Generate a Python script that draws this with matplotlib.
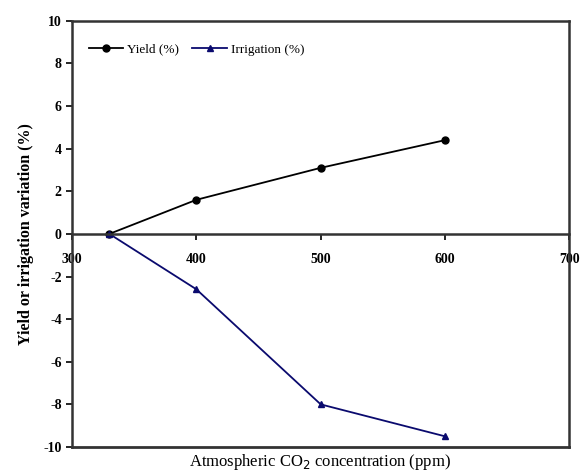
import matplotlib
matplotlib.use("Agg")
import matplotlib.pyplot as plt

co2 = [330, 400, 500, 600]
yield_var = [0, 1.6, 3.1, 4.4]
irrigation_var = [0, -2.6, -8.0, -9.5]

x_ticks = [300, 400, 500, 600, 700]
y_ticks = [-10, -8, -6, -4, -2, 0, 2, 4, 6, 8, 10]

plt.rcParams['font.family'] = ['Liberation Serif', 'DejaVu Serif']

fig = plt.figure(figsize=(5.81, 4.73), dpi=100)
ax = fig.add_axes([0.124, 0.055, 0.856, 0.901])

ax.plot(co2, yield_var, color='black', marker='o', markersize=5, linewidth=1.3, label='Yield (%)')
ax.plot(co2, irrigation_var, color='#0a0a6e', marker='^', markersize=5, linewidth=1.3, label='Irrigation (%)')

ax.set_xlim(300, 700)
ax.set_ylim(-10, 10)
ax.set_xticks(x_ticks)
ax.set_yticks(y_ticks)
ax.set_yticklabels([str(t) for t in y_ticks])

# x axis sits at y = 0, the frame is kept closed at the bottom
ax.spines['bottom'].set_position(('data', 0))
ax.plot([0, 1], [0, 0], transform=ax.transAxes, color='#333333', linewidth=2, clip_on=False)
for side in ['left', 'right', 'top', 'bottom']:
    ax.spines[side].set_linewidth(1.8)
    ax.spines[side].set_color('#333333')

ax.tick_params(axis='both', direction='out', length=4, width=1.2, labelsize=10)
ax.tick_params(axis='x', pad=10)
for lbl in ax.get_xticklabels() + ax.get_yticklabels():
    lbl.set_fontweight('bold')

ax.set_ylabel('Yield or irrigation variation (%)', fontsize=11.5, fontweight='bold', labelpad=7)
fig.text(0.55, 0.002, 'Atmospheric CO$_2$ concentration (ppm)', ha='center', va='bottom', fontsize=12)

ax.legend(loc='upper left', bbox_to_anchor=(0.01, 0.975), ncol=2, frameon=False,
          fontsize=9.5, handlelength=2.6, columnspacing=1.0, handletextpad=0.3)

fig.savefig('out.png', dpi=100)
